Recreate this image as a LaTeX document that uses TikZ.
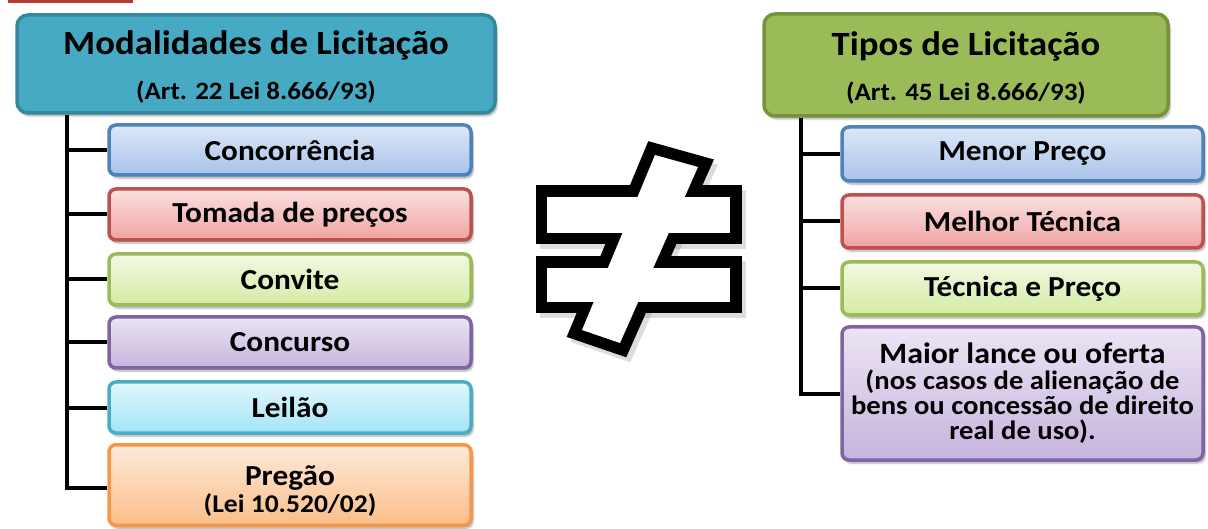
\documentclass[tikz,border=0pt]{standalone}
\usepackage{fontspec}
\setmainfont{Carlito}[FakeStretch=1.08]
\usetikzlibrary{shadows.blur}

\definecolor{redline}{HTML}{B8383B}
\definecolor{hLfill}{HTML}{46AAC4}
\definecolor{hLdraw}{HTML}{35889E}
\definecolor{hRfill}{HTML}{9BBB59}
\definecolor{hRdraw}{HTML}{76923C}
\definecolor{bluetop}{HTML}{DDE7F6}
\definecolor{bluebot}{HTML}{A8C3EA}
\definecolor{bluedraw}{HTML}{4F81BD}
\definecolor{redtop}{HTML}{FAE0E0}
\definecolor{redbot}{HTML}{F0A3A2}
\definecolor{reddraw}{HTML}{C0504D}
\definecolor{greentop}{HTML}{F2F9E3}
\definecolor{greenbot}{HTML}{D3EBA3}
\definecolor{greendraw}{HTML}{9BBB59}
\definecolor{purptop}{HTML}{ECE4F4}
\definecolor{purpbot}{HTML}{C6B4DD}
\definecolor{purpdraw}{HTML}{8064A2}
\definecolor{cyantop}{HTML}{E2F6FC}
\definecolor{cyanbot}{HTML}{A3E5F7}
\definecolor{cyandraw}{HTML}{4BACC6}
\definecolor{orgtop}{HTML}{FDEADB}
\definecolor{orgbot}{HTML}{FBBE88}
\definecolor{orgdraw}{HTML}{F79646}

\tikzset{
  hdrbox/.style={draw, line width=3.5pt, rounded corners=11pt, align=center,
    font=\bfseries, text=black, inner sep=2pt,
    blur shadow={shadow xshift=2pt, shadow yshift=-3pt, shadow blur steps=6, shadow opacity=35}},
  itembox/.style={draw, line width=3.5pt, rounded corners=7pt, align=center,
    font=\bfseries\fontsize{29}{31}\selectfont, text=black, inner sep=2pt,
    blur shadow={shadow xshift=2pt, shadow yshift=-3pt, shadow blur steps=6, shadow opacity=35}},
  lbox/.style={itembox, minimum width=362pt},
  rbox/.style={itembox, minimum width=361pt},
  bluebox/.style={top color=bluetop, bottom color=bluebot, draw=bluedraw},
  redbox/.style={top color=redtop, bottom color=redbot, draw=reddraw},
  greenbox/.style={top color=greentop, bottom color=greenbot, draw=greendraw},
  purpbox/.style={top color=purptop, bottom color=purpbot, draw=purpdraw},
  cyanbox/.style={top color=cyantop, bottom color=cyanbot, draw=cyandraw},
  orgbox/.style={top color=orgtop, bottom color=orgbot, draw=orgdraw},
  conn/.style={draw=black, line width=4pt},
  neqstroke/.style={draw=black, line width=23pt, line join=miter},
  neqfill/.style={fill=white},
  neqshadow/.style={draw=black!60, fill=black!60, line width=23pt, opacity=0.22}
}

\begin{document}
\begin{tikzpicture}[x=1pt,y=-1pt]
\useasboundingbox (0,0) rectangle (1208,529);

% red fragment at the top left
\draw[redline, line width=3pt] (8,1.5) -- (133,1.5);

% headers
\node[hdrbox, fill=hLfill, draw=hLdraw, minimum width=478pt, minimum height=98pt] (hL) at (256,64)
  {\rule{0pt}{30pt}{\fontsize{34}{36}\selectfont Modalidades de Licitação}\\[19pt]{\fontsize{25}{27}\selectfont (Art. 22 Lei 8.666/93)}};
\node[hdrbox, fill=hRfill, draw=hRdraw, minimum width=404pt, minimum height=102pt] (hR) at (966,65)
  {\rule{0pt}{30pt}{\fontsize{34}{36}\selectfont Tipos de Licitação}\\[19pt]{\fontsize{25}{27}\selectfont (Art. 45 Lei 8.666/93)}};

% left items
\node[lbox, bluebox, minimum height=50pt] (b1) at (290,150) {Concorrência};
\node[lbox, redbox, minimum height=51pt] (b2) at (290,214.5) {Tomada de preços};
\node[lbox, greenbox, minimum height=51pt] (b3) at (290,279.5) {Convite};
\node[lbox, purpbox, minimum height=51pt] (b4) at (290,342.5) {Concurso};
\node[lbox, cyanbox, minimum height=51pt] (b5) at (290,407.5) {Leilão};
\node[lbox, orgbox, minimum height=80.5pt] (b6) at (290,485)
  {\rule{0pt}{32pt}Pregão\\[-4pt]{\fontsize{25.5}{27}\selectfont (Lei 10.520/02)}};

% right items
\node[rbox, bluebox, minimum height=54pt] (c1) at (1022.5,154) {Menor Preço};
\node[rbox, redbox, minimum height=53pt] (c2) at (1022.5,221.5) {Melhor Técnica};
\node[rbox, greenbox, minimum height=53pt] (c3) at (1022.5,288.5) {Técnica e Preço};
\node[rbox, purpbox, minimum height=133pt] (c4) at (1022.5,393.5)
  {{\fontsize{29.5}{31}\selectfont Maior lance ou oferta}\\[-5pt]{\fontsize{26.5}{24}\selectfont (nos casos de alienação de}\\[-6pt]
   {\fontsize{26.5}{24}\selectfont bens ou concessão de direito}\\[-6pt]{\fontsize{26.5}{24}\selectfont real de uso).}};

% connectors, left
\coordinate (tLx) at (67,0);
\coordinate (tLend) at (67,488);
\draw[conn] (hL.south -| tLx) -- (tLend) -- (tLend -| b6.west);
\foreach \n in {b1,b2,b3,b4,b5} \draw[conn] (\n.west -| tLx) -- (\n.west);

% connectors, right
\coordinate (tRx) at (801,0);
\draw[conn] (hR.south -| tRx) |- (c4.west);
\foreach \n in {c1,c2,c3} \draw[conn] (\n.west -| tRx) -- (\n.west);

% not-equal sign
\begin{scope}[shift={(4,5)}]
  \path[neqshadow] (547,197) rectangle (730,233);
  \path[neqshadow] (547,268) rectangle (730,302);
  \path[neqshadow] (655,155) -- (698,167) -- (620,343) -- (582,330) -- cycle;
\end{scope}
\path[neqstroke] (547,197) rectangle (730,233);
\path[neqstroke] (547,268) rectangle (730,302);
\path[neqstroke] (655,155) -- (698,167) -- (620,343) -- (582,330) -- cycle;
\path[neqfill] (547,197) rectangle (730,233);
\path[neqfill] (547,268) rectangle (730,302);
\path[neqfill] (655,155) -- (698,167) -- (620,343) -- (582,330) -- cycle;
\end{tikzpicture}
\end{document}
